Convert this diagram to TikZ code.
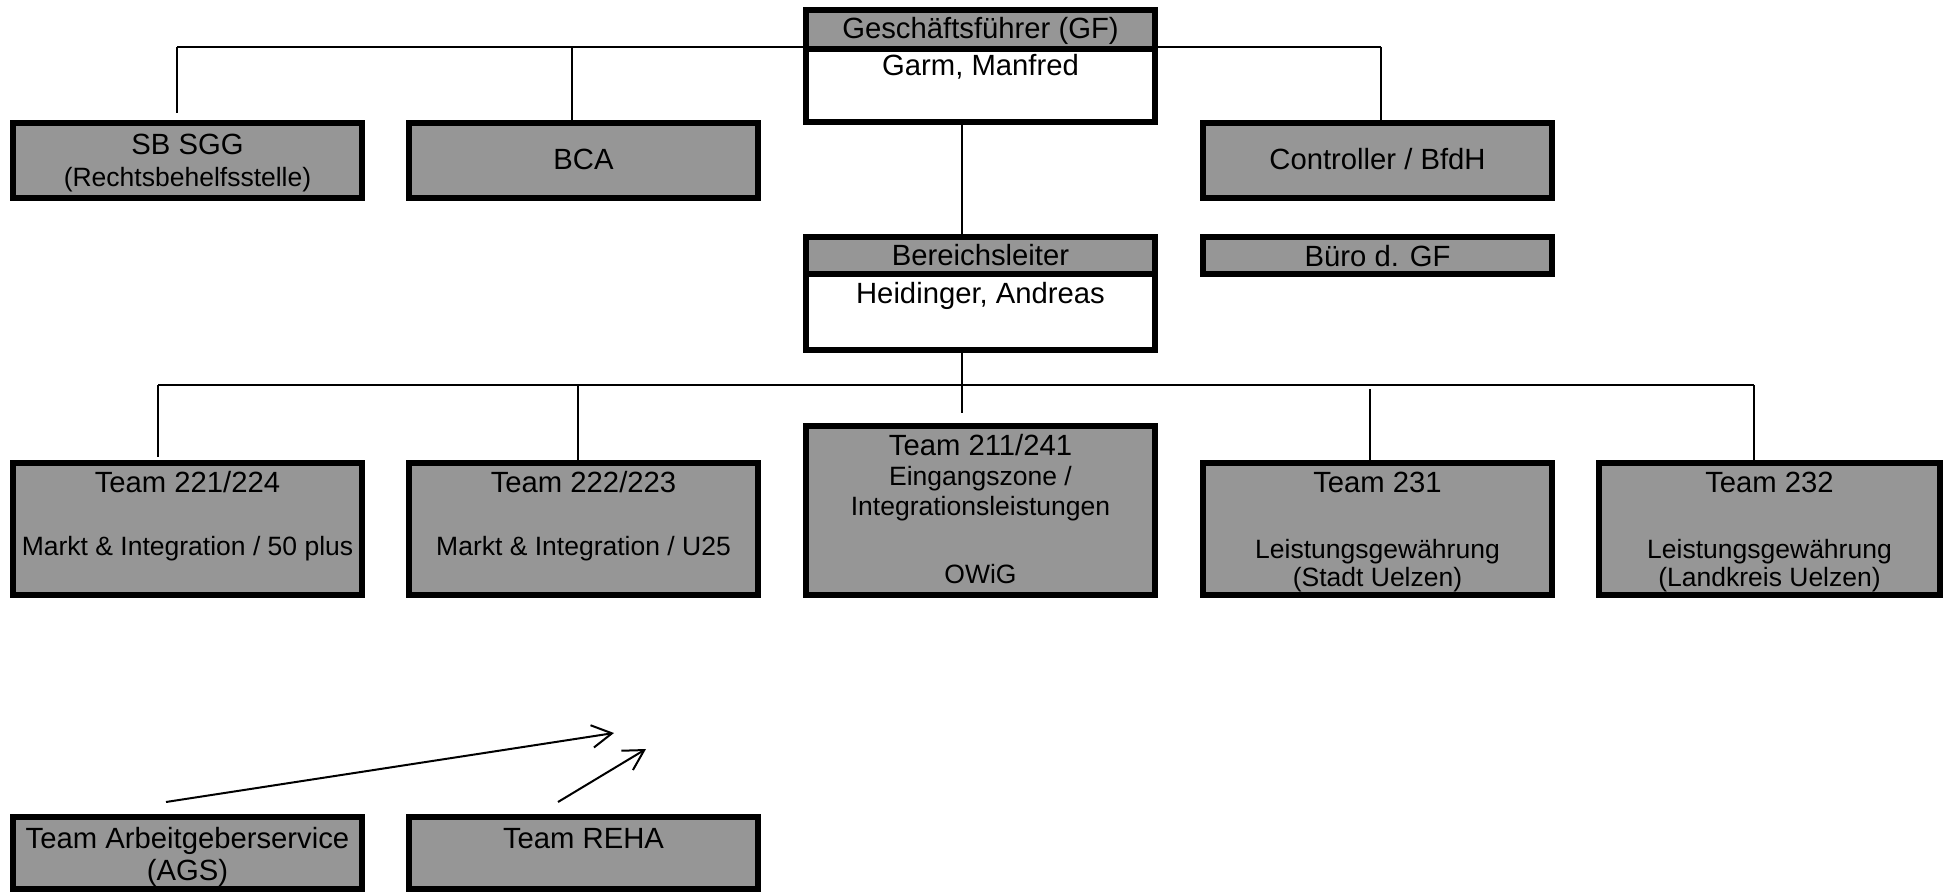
\documentclass[tikz,border=0pt]{standalone}
\usepackage{fontspec}
\setmainfont{Liberation Sans}
\usetikzlibrary{arrows.meta}

\definecolor{unitgray}{RGB}{150,150,150}
\newcommand{\titlef}{\fontsize{11.7pt}{0pt}\selectfont}
\newcommand{\subf}{\fontsize{10.6pt}{0pt}\selectfont}
% box: height, width, first baseline below top, lines
\newcommand{\orgbox}[4]{\parbox[c][#1][t]{#2}{\centering\baselineskip=0pt\lineskiplimit=-\maxdimen\rule{0pt}{#3}#4}}

\begin{document}
\begin{tikzpicture}[x=0.4pt, y=-0.4pt,
    unit/.style={draw, line width=2.4pt, fill=unitgray, inner sep=0pt, font=\titlef},
    person/.style={unit, fill=white},
    head/.style={unit, anchor=north},
    link/.style={line width=0.8pt},
    pointer/.style={line width=0.8pt, -{Straight Barb[length=8pt, width=9pt]}}]
    \useasboundingbox (0,0) rectangle (1944,892);

    % Geschaeftsfuehrung
    \node[person] (gf) at (980.5,66) {\orgbox{44.8pt}{139.6pt}{26.4pt}{Garm, Manfred}};
    \node[head] (gfhead) at (gf.north) {\orgbox{15.6pt}{139.6pt}{11.6pt}{Geschäftsführer (GF)}};

    % Stabsstellen
    \node[unit] (sbsgg) at (187.5,160.5) {\orgbox{30pt}{139.6pt}{12.8pt}{SB SGG\\[12.8pt]\subf (Rechtsbehelfsstelle)}};
    \node[unit] (bca) at (583.5,160.5) {\orgbox{30pt}{139.6pt}{18.8pt}{BCA}};
    \node[unit] (ctrl) at (1377.5,160.5) {\orgbox{30pt}{139.6pt}{18.8pt}{Controller / BfdH}};
    \node[unit] (buero) at (1377.5,255.5) {\orgbox{14.8pt}{139.6pt}{11.6pt}{Büro d. GF}};

    % Bereichsleitung
    \node[person] (bl) at (980.5,293.5) {\orgbox{45.2pt}{139.6pt}{26.4pt}{Heidinger, Andreas}};
    \node[head] (blhead) at (bl.north) {\orgbox{14.8pt}{139.6pt}{11.2pt}{Bereichsleiter}};

    % Teams
    \node[unit] (t221) at (187.5,529) {\orgbox{52.8pt}{139.6pt}{11.6pt}{Team 221/224\\[25.2pt]\subf Markt \& Integration / 50 plus}};
    \node[unit] (t222) at (583.5,529) {\orgbox{52.8pt}{139.6pt}{11.6pt}{Team 222/223\\[25.2pt]\subf Markt \& Integration / U25}};
    \node[unit] (t211) at (980.5,510.5) {\orgbox{67.6pt}{139.6pt}{11.6pt}{Team 211/241\\[12pt]\subf Eingangszone /\\[12pt]Integrationsleistungen\\[27.2pt]OWiG}};
    \node[unit] (t231) at (1377.5,529) {\orgbox{52.8pt}{139.6pt}{11.6pt}{Team 231\\[26.4pt]\subf Leistungsgewährung\\[11.2pt](Stadt Uelzen)}};
    \node[unit] (t232) at (1769.5,529) {\orgbox{52.8pt}{136.4pt}{11.6pt}{Team 232\\[26.4pt]\subf Leistungsgewährung\\[11.2pt](Landkreis Uelzen)}};

    \node[unit] (ags) at (187.5,853) {\orgbox{28.8pt}{139.6pt}{12.4pt}{Team Arbeitgeberservice\\[12.8pt](AGS)}};
    \node[unit] (reha) at (583.5,853) {\orgbox{28.8pt}{139.6pt}{12.4pt}{Team REHA}};

    % upper lines
    \coordinate (tl) at (177,47);
    \coordinate (bcaj) at (572,47);
    \coordinate (tr) at (1381,47);
    \draw[link] (tl) -- (tl -| gf.west);
    \draw[link] (tr) -- (tr -| gf.east);
    \draw[link, shorten >=2.8pt] (tl) -- (tl |- sbsgg.north);
    \draw[link] (bcaj) -- (bcaj |- bca.north);
    \draw[link] (tr) -- (tr |- ctrl.north);

    % lower lines
    \coordinate (mj) at (962,385);
    \coordinate (ll) at (158,385);
    \coordinate (j222) at (578,385);
    \coordinate (j231) at (1370,385);
    \coordinate (lr) at (1754,385);
    \draw[link] (gf.south -| mj) -- (blhead.north -| mj);
    \draw[link, shorten >=4pt] (bl.south -| mj) -- (t211.north -| mj);
    \draw[link] (ll) -- (lr);
    \draw[link, shorten >=1.2pt] (ll) -- (ll |- t221.north);
    \draw[link] (j222) -- (j222 |- t222.north);
    \draw[link, shorten <=1.6pt] (j231) -- (j231 |- t231.north);
    \draw[link] (lr) -- (lr |- t232.north);

    % arrows
    \coordinate (agstip) at (614,733);
    \coordinate (rehatip) at (646,749);
    \draw[pointer] ([shift={(-21.5,-12)}]ags.north) -- (agstip);
    \draw[pointer] ([shift={(-25.5,-12)}]reha.north) -- (rehatip);
\end{tikzpicture}
\end{document}
